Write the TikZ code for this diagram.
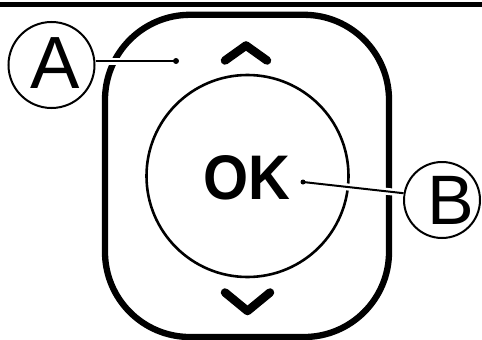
\documentclass[tikz,border=0pt]{standalone}
\usepackage{fontspec}
\setmainfont{Liberation Sans}
\begin{document}
\begin{tikzpicture}[x=1pt,y=-1pt,
  frame/.style={line width=6.3pt},
  chev/.style={line width=8.5pt,line cap=round,line join=round},
  callout/.style={circle,draw,line width=2pt,fill=white,inner sep=0pt},
  letter/.style={font=\fontsize{74}{74}\selectfont,inner sep=0pt},
  halo/.style={white,line width=7pt},
  leader/.style={line width=2pt},
  dotmark/.style={circle,fill,inner sep=0pt,minimum size=6pt}]
\useasboundingbox (0,0) rectangle (482,340);
% top rule
\draw[line width=4.5pt] (0,4.7) -- (482,4.7);
% remote body
\draw[frame,rounded corners=85pt] (105,14.8) rectangle (389,337);
% OK button
\node[circle,draw,line width=2.6pt,minimum size=202pt,inner sep=0pt] (ok) at (247.5,176) {};
\node[font=\bfseries\fontsize{63}{63}\selectfont,xscale=0.92,inner sep=0pt] (oktext) at (246.5,177.5) {OK};
% chevrons
\draw[chev] (225,60.5) -- (246,45.5) -- (267,60.5);
\draw[chev] (225,292.5) -- (247.5,311) -- (270,292.5);
% callout circles
\node[callout,minimum size=86pt] (A) at (51.5,65) {};
\node[callout,minimum size=76pt] (B) at (442,200) {};
\node[letter] (Atext) at (55.5,63.5) {A};
\node[letter,font=\fontsize{70}{70}\selectfont] (Btext) at (451,200) {B};
% leader anchors
\coordinate (dotA) at (176,61);
\coordinate (dotB) at (303,182);
\draw[halo] (A.east |- dotA) -- (dotA);
\draw[halo] (dotB) -- (B.170);
\draw[leader] (A.east |- dotA) -- (dotA);
\draw[leader] (dotB) -- (B.170);
\node[dotmark] at (dotA) {};
\node[dotmark,minimum size=5pt] at (dotB) {};
\end{tikzpicture}
\end{document}
